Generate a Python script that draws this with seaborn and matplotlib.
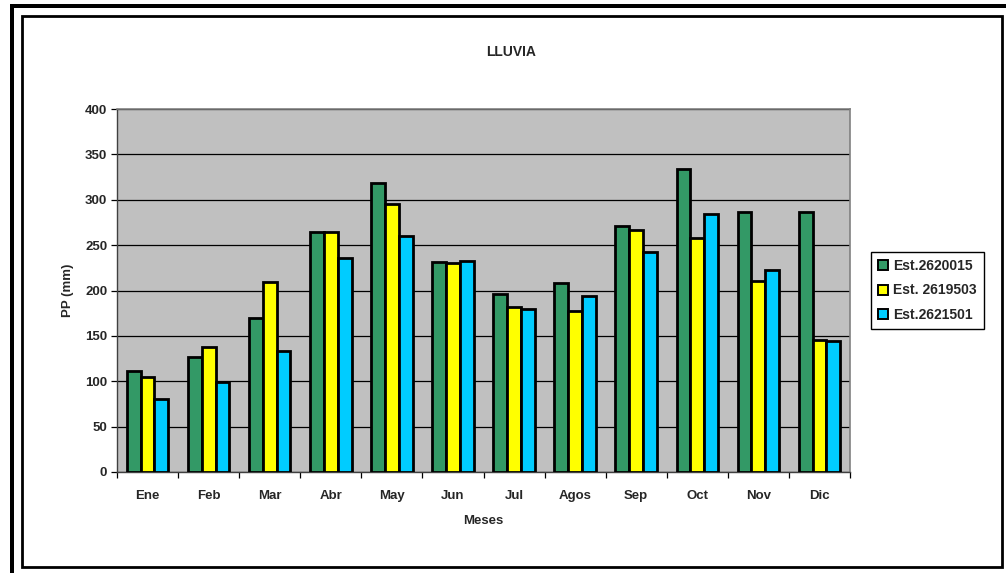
import pandas as pd
import matplotlib
matplotlib.use("Agg")
import matplotlib.pyplot as plt
from matplotlib.patches import Rectangle
import seaborn as sns

# --- Datos ---
meses = ["Ene", "Feb", "Mar", "Abr", "May", "Jun", "Jul", "Agos", "Sep", "Oct", "Nov", "Dic"]
est_2620015 = [111, 127, 170, 264, 319, 231, 196, 208, 271, 334, 286, 286]
est_2619503 = [105, 138, 209, 264, 295, 230, 182, 177, 267, 258, 211, 146]
est_2621501 = [80, 99, 133, 236, 260, 232, 180, 194, 242, 284, 223, 144]
estaciones = ["Est.2620015", "Est. 2619503", "Est.2621501"]
colores = ["#339966", "#FFFF00", "#00CCFF"]

df = pd.DataFrame({"mes": meses, estaciones[0]: est_2620015,
                   estaciones[1]: est_2619503, estaciones[2]: est_2621501})
df_melted = df.melt(id_vars="mes", var_name="Estacion", value_name="PP")

# --- Estilo ---
sns.set_theme(style="white")
plt.rcParams["font.family"] = ["Liberation Sans", "DejaVu Sans"]
plt.rcParams["font.weight"] = "bold"

fig = plt.figure(figsize=(10.06, 5.73), dpi=100)
W, H = 1006, 573

# marco exterior tipo Excel
fig.patches.append(Rectangle((10 / W, 0), 4 / W, 1 - 4 / H, transform=fig.transFigure,
                             facecolor="black", edgecolor="none", zorder=0))
fig.patches.append(Rectangle((10 / W, 1 - 8 / H), 1 - 10 / W, 4 / H, transform=fig.transFigure,
                             facecolor="black", edgecolor="none", zorder=0))
fig.patches.append(Rectangle((22 / W, 1 - 567 / H), 980 / W, 551 / H, transform=fig.transFigure,
                             facecolor="none", edgecolor="black", linewidth=2, zorder=0))

ax = fig.add_axes([117 / W, 1 - 472 / H, (850 - 117) / W, (472 - 109) / H])
ax.set_facecolor("#C0C0C0")

sns.barplot(data=df_melted, x="mes", y="PP", hue="Estacion", palette=colores,
            saturation=1, width=0.68, edgecolor="black", linewidth=2.0, ax=ax, zorder=3)

ax.set_ylim(0, 400)
ax.set_xlim(-0.5, 11.5)
ax.set_yticks(range(0, 401, 50))
ax.yaxis.grid(True, color="black", linewidth=0.9, zorder=0)
ax.set_axisbelow(True)

for s in ["top", "right"]:
    ax.spines[s].set_color("#808080")
    ax.spines[s].set_linewidth(1.2)
for s in ["left", "bottom"]:
    ax.spines[s].set_color("#404040")
    ax.spines[s].set_linewidth(1.0)

ax.tick_params(axis="y", direction="out", length=4, width=0.9, color="black",
               labelsize=9.5, pad=3, left=True)
ax.tick_params(axis="x", which="major", length=0, labelsize=9.5, pad=13)
ax.set_xticks([i + 0.5 for i in range(-1, 12)], minor=True)
ax.tick_params(axis="x", which="minor", direction="out", length=4, width=0.9,
               color="black", bottom=True)
for lbl in ax.get_xticklabels() + ax.get_yticklabels():
    lbl.set_fontweight("bold")

ax.set_xlabel("Meses", fontsize=9.5, fontweight="bold", labelpad=9)
ax.set_ylabel("PP (mm)", fontsize=9.5, fontweight="bold", labelpad=8)
fig.text(511 / W, 1 - 52 / H, "LLUVIA", ha="center", va="center",
         fontsize=10, fontweight="bold")

ax.legend_.remove()
handles = [Rectangle((0, 0), 1, 1, facecolor=c, edgecolor="black", linewidth=1.4) for c in colores]
leg = fig.legend(handles, estaciones, loc="center", bbox_to_anchor=(927.5 / W, 1 - 290.5 / H),
                 bbox_transform=fig.transFigure, frameon=True, fancybox=False,
                 edgecolor="black", framealpha=1, handlelength=0.7, handleheight=0.7,
                 handletextpad=0.4, labelspacing=0.75, borderpad=0.5,
                 prop={"weight": "bold", "size": 10})
leg.get_frame().set_linewidth(1.0)

plt.savefig("out.png", dpi=100)
plt.close()
